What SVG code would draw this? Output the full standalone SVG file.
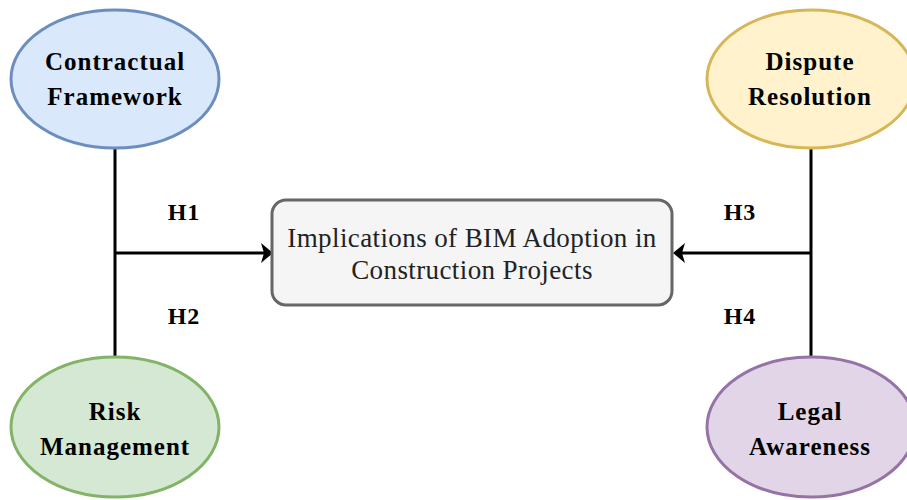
<svg xmlns="http://www.w3.org/2000/svg" width="907" height="500" viewBox="0 0 907 500">
<style>
.bold{font-family:"Liberation Serif","Times New Roman",serif;font-weight:bold;font-size:25px;letter-spacing:1px;fill:#000;text-anchor:middle}
.h{font-family:"Liberation Serif","Times New Roman",serif;font-weight:bold;font-size:24px;letter-spacing:1px;fill:#000;text-anchor:middle}
.main{font-family:"Liberation Serif","Times New Roman",serif;font-size:27px;letter-spacing:0.4px;fill:#222;text-anchor:middle}
.conn{stroke:#000;stroke-width:3;fill:none}
.ell{stroke-width:3}
</style>
<g id="connectors">
<line class="conn" x1="115" y1="147" x2="115" y2="357"/>
<path class="conn" d="M115,253 H268"/>
<path d="M261,243 L273,253 L261,263 L264,253 z" fill="#000"/>
<line class="conn" x1="811" y1="147" x2="811" y2="357"/>
<path class="conn" d="M811,253 H678"/>
<path d="M685,243 L673,253 L685,263 L682,253 z" fill="#000"/>
<text class="h" x="184" y="220">H1</text>
<text class="h" x="184" y="324">H2</text>
<text class="h" x="740" y="220">H3</text>
<text class="h" x="740" y="324">H4</text>
</g>
<g id="center">
<rect x="272" y="200" width="400" height="105" rx="14" ry="14" fill="#f5f5f5" stroke="#666" stroke-width="3"/>
<text class="main" x="472" y="247">Implications of BIM Adoption in</text>
<text class="main" x="472" y="279">Construction Projects</text>
</g>
<g id="contractual">
<ellipse class="ell" cx="115" cy="79" rx="104" ry="69" fill="#dae8fc" stroke="#6c8ebf"/>
<text class="bold" x="115" y="70">Contractual</text>
<text class="bold" x="115" y="105">Framework</text>
</g>
<g id="dispute">
<ellipse class="ell" cx="811" cy="79" rx="104" ry="69" fill="#fff2cc" stroke="#d6b656"/>
<text class="bold" x="810" y="70">Dispute</text>
<text class="bold" x="810" y="105">Resolution</text>
</g>
<g id="risk">
<ellipse class="ell" cx="115" cy="427" rx="104" ry="70" fill="#d5e8d4" stroke="#82b366"/>
<text class="bold" x="115" y="420">Risk</text>
<text class="bold" x="115" y="455">Management</text>
</g>
<g id="legal">
<ellipse class="ell" cx="811" cy="427" rx="104" ry="70" fill="#e1d5e7" stroke="#9673a6"/>
<text class="bold" x="810" y="420">Legal</text>
<text class="bold" x="810" y="455">Awareness</text>
</g>
</svg>
